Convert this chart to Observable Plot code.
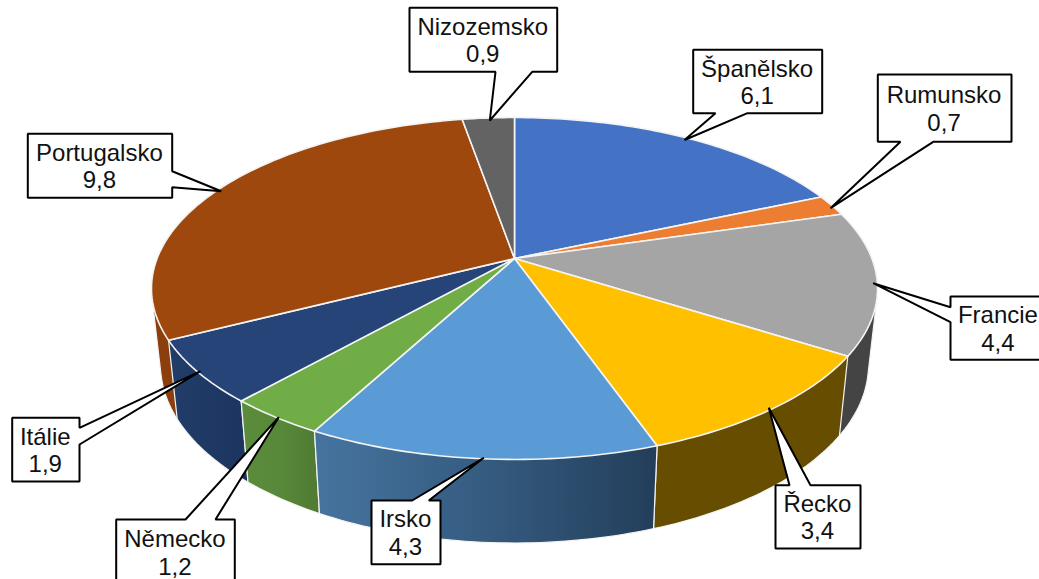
<!DOCTYPE html>
<html><head><meta charset="utf-8">
<style>html,body{margin:0;padding:0;background:#fff;overflow:hidden}svg{display:block}</style>
<script src="https://cdn.jsdelivr.net/npm/d3@7"></script>
<script src="https://cdn.jsdelivr.net/npm/@observablehq/plot@0.6"></script>
</head><body><script>
// Data
const countries = ["Španělsko","Rumunsko","Francie","Řecko","Irsko","Německo","Itálie","Portugalsko","Nizozemsko"];
const values = [6.1,0.7,4.4,3.4,4.3,1.2,1.9,9.8,0.9];
// slice sizes as they are drawn in the picture (they sum to less than the printed labels)
const drawnShares = [6.06,0.65,4.42,3.48,4.34,1.22,1.94,9.75,0.9];
const topColors = ["#4472C4","#ED7D31","#A5A5A5","#FFC000","#5B9BD5","#70AD47","#264478","#9E480E","#636363"];
const wallColors = ["#2f4f88","#a5571f","#444444","#664D00","url(#wallIrsko)","url(#wallNemecko)","url(#wallItalie)","url(#wallPortugal)","#454545"];

// Callout layout: box edges, side and span of the wedge, tip position
const callouts = [
  {l:692.7,t:49.3,r:821.7,b:112.7,side:"b",a:715,c:747,tx:684,ty:139.5},
  {l:877.3,t:74,r:1011,b:141.3,side:"b",a:900,c:932.7,tx:830,ty:207.7},
  {l:950,t:296,r:1046,b:359.3,side:"l",a:306.7,c:321.7,tx:872.7,ty:282.7},
  {l:775,t:484.7,r:860,b:548,side:"t",a:789,c:810,tx:768.3,ty:407.3},
  {l:371,t:500,r:440,b:563.7,side:"t",a:411.7,c:428.3,tx:483.3,ty:457.3},
  {l:115.7,t:519,r:234.3,b:584,side:"t",a:185,c:215,tx:278.3,ty:416.7},
  {l:11.7,t:417.3,r:79,b:481,side:"r",a:427.3,c:444,tx:200,ty:370.7},
  {l:27.3,t:133.3,r:171.7,b:197.3,side:"r",a:170.7,c:186.7,tx:220.7,ty:190.7},
  {l:409,t:7.3,r:556.7,b:71.3,side:"b",a:495,c:531.7,tx:489.3,ty:120}
];

// Perspective of the disc
const W = 1039, H = 579;
const cx = 514, cy = 258, a = 357.4, b = 165.7, k = 0.1754;
const wallSx = 0.975, wallSy = 1.04, wallCy = 333.5;
const top3d = t => { const u = Math.sin(t), v = -Math.cos(t), d = 1 - k*v; return [cx + a*u/d, cy + b*v/d]; };
const bot3d = t => { const [x,y] = top3d(t); return [cx + wallSx*(x-cx), wallCy + wallSy*(y-cy)]; };

const arcs = d3.pie().sort(null)(drawnShares);
const arcT = s => { const n = Math.max(2, Math.ceil((s.endAngle-s.startAngle)/0.02)); return d3.range(n+1).map(i => s.startAngle + (s.endAngle-s.startAngle)*i/n); };
const toRows = pts => pts.map(([x,y]) => ({x,y}));

const topPoly = arcs.map(s => toRows([[cx,cy], ...arcT(s).map(top3d)]));
const wallPoly = arcs.map(s => { const ts = arcT(s); return toRows(d3.polygonHull([...ts.map(top3d), ...ts.map(bot3d)])); });

// back to front drawing order for the side walls
const wallOrder = [8,0,1,7,2,6,3,5,4];

const calloutPoly = c => {
  const tip = [c.tx,c.ty], P = [];
  P.push([c.l,c.t]);
  if (c.side==="t") P.push([c.a,c.t],tip,[c.c,c.t]);
  P.push([c.r,c.t]);
  if (c.side==="r") P.push([c.r,c.a],tip,[c.r,c.c]);
  P.push([c.r,c.b]);
  if (c.side==="b") P.push([c.c,c.b],tip,[c.a,c.b]);
  P.push([c.l,c.b]);
  if (c.side==="l") P.push([c.l,c.c],tip,[c.l,c.a]);
  return toRows(P);
};
const labels = countries.map((n,i) => ({
  x:(callouts[i].l+callouts[i].r)/2 - 0.6, y:(callouts[i].t+callouts[i].b)/2,
  text:n+"\n"+String(values[i]).replace(".",",")
}));

const defs = () => {
  const d = d3.create("svg:defs");
  const grad = (id, stops) => {
    const g = d.append("linearGradient").attr("id",id);
    stops.forEach(([o,c]) => g.append("stop").attr("offset",o).attr("stop-color",c));
  };
  grad("wallIrsko",[[0,"#46749f"],[0.5,"#355b80"],[1,"#233e5a"]]);
  grad("wallNemecko",[[0,"#5a8c3a"],[0.5,"#58893a"],[1,"#4f7a32"]]);
  grad("wallItalie",[[0,"#213d68"],[1,"#1c3560"]]);
  grad("wallPortugal",[[0,"#8a3f0c"],[1,"#8a3f0c"]]);
  return d.node();
};
const poly = (rows, fill, stroke, sw) => Plot.line(rows,{x:"x",y:"y",fill,stroke,strokeWidth:sw,curve:"linear-closed",strokeLinejoin:"round"});

const chart = Plot.plot({
  width:W, height:H, margin:0,
  x:{domain:[0,W],range:[0,W],axis:null},
  y:{domain:[0,H],range:[0,H],axis:null},
  style:{background:"#fff"},
  marks:[
    defs,
    ...wallOrder.map(i => poly(wallPoly[i], wallColors[i], "#f4f4f4", 1.2)),
    ...topPoly.map((r,i) => poly(r, topColors[i], "#f4f4f4", 1.6)),
    ...callouts.map(c => Plot.line(calloutPoly(c),{x:"x",y:"y",fill:"#fff",stroke:"#000",strokeWidth:2,curve:"linear-closed",strokeLinejoin:"miter"})),
    Plot.text(labels,{x:"x",y:"y",text:"text",fontSize:24,fontFamily:"'Liberation Sans',Arial,sans-serif",fill:"#111",lineHeight:1.15,lineAnchor:"middle",textAnchor:"middle"})
  ]
});
document.body.appendChild(chart);
</script></body></html>
